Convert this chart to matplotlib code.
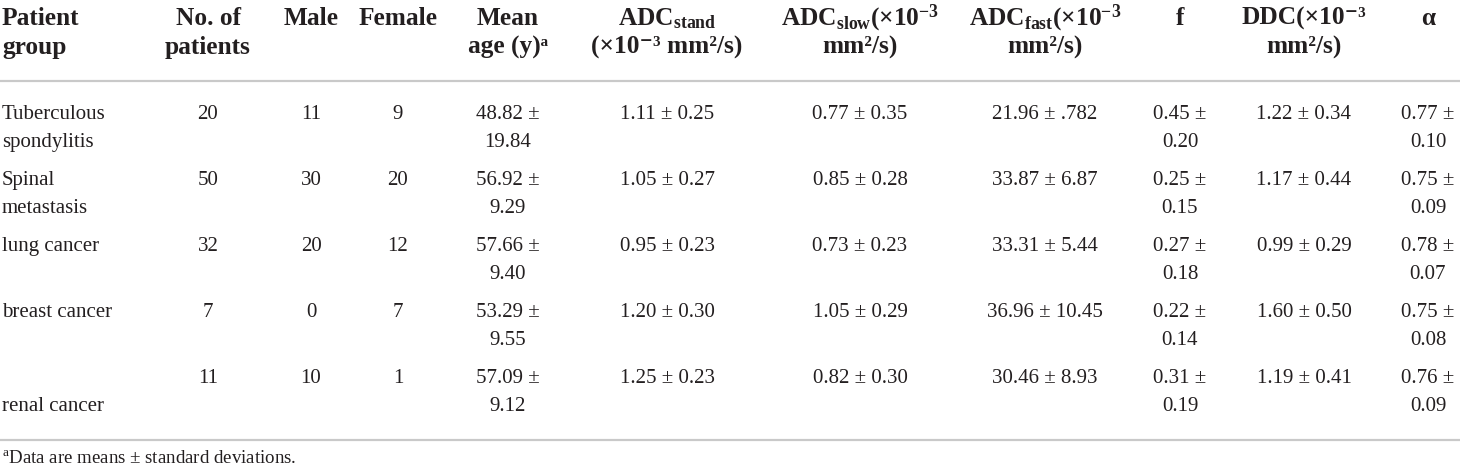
import matplotlib
matplotlib.use("Agg")
import matplotlib.pyplot as plt

# ---------------- data ----------------
groups = [["Tuberculous", "spondylitis"], ["Spinal", "metastasis"],
          ["lung cancer"], ["breast cancer"], ["", "renal cancer"]]
n_patients = [20, 50, 32, 7, 11]
male = [11, 30, 20, 0, 10]
female = [9, 20, 12, 7, 1]
age_mean = ["48.82", "56.92", "57.66", "53.29", "57.09"]
age_sd = ["19.84", "9.29", "9.40", "9.55", "9.12"]
adc_stand_mean = ["1.11", "1.05", "0.95", "1.20", "1.25"]
adc_stand_sd = ["0.25", "0.27", "0.23", "0.30", "0.23"]
adc_slow_mean = ["0.77", "0.85", "0.73", "1.05", "0.82"]
adc_slow_sd = ["0.35", "0.28", "0.23", "0.29", "0.30"]
adc_fast_mean = ["21.96", "33.87", "33.31", "36.96", "30.46"]
adc_fast_sd = [".782", "6.87", "5.44", "10.45", "8.93"]
f_mean = ["0.45", "0.25", "0.27", "0.22", "0.31"]
f_sd = ["0.20", "0.15", "0.18", "0.14", "0.19"]
ddc_mean = ["1.22", "1.17", "0.99", "1.60", "1.19"]
ddc_sd = ["0.34", "0.44", "0.29", "0.50", "0.41"]
alpha_mean = ["0.77", "0.75", "0.78", "0.75", "0.76"]
alpha_sd = ["0.10", "0.09", "0.07", "0.08", "0.09"]

headers = [
    ["Patient", "group"],
    ["No. of", "patients"],
    ["Male"],
    ["Female"],
    ["Mean", "age (y)ᵃ"],
    [r"ADC$_{\mathbf{stand}}$", "(×10⁻³ mm²/s)"],
    [r"ADC$_{\mathbf{slow}}$(×10$^{\mathbf{-3}}$", "mm²/s)"],
    [r"ADC$_{\mathbf{fast}}$(×10$^{\mathbf{-3}}$", "mm²/s)"],
    ["f"],
    ["DDC(×10⁻³", "mm²/s)"],
    ["α"],
]
footnote = r"$^{\mathrm{a}}$Data are means ± standard deviations."

# ---------------- style ----------------
plt.rcParams['font.family'] = ['Liberation Serif', 'DejaVu Serif']
plt.rcParams['mathtext.fontset'] = 'custom'
plt.rcParams['mathtext.rm'] = 'Liberation Serif'
plt.rcParams['mathtext.bf'] = 'Liberation Serif:bold'
plt.rcParams['mathtext.it'] = 'Liberation Serif:italic'

TXT = '#231f20'
RULE = '#c9c9c9'
W, H = 1460, 469
fig = plt.figure(figsize=(W / 100, H / 100), dpi=100)
ax = fig.add_axes([0, 0, 1, 1])
ax.set_xlim(0, W)
ax.set_ylim(H, 0)
ax.axis('off')

col_x = [2, 208, 311, 398, 508, 667, 860, 1045, 1180, 1304, 1428]
col_ha = ['left'] + ['center'] * 10
head_base = [25, 54]
row_base0, row_pitch, line_pitch = 119, 66, 28
HFS, BFS, FFS = 18.3, 15, 13.6

for c, lines in enumerate(headers):
    for k, t in enumerate(lines):
        ax.text(col_x[c], head_base[k], t, ha=col_ha[c], va='baseline',
                fontsize=HFS, fontweight='bold', color=TXT)

ax.plot([0, W], [81, 81], color=RULE, lw=1.6, solid_capstyle='butt')
ax.plot([0, W], [440, 440], color=RULE, lw=1.6, solid_capstyle='butt')


def pm(m, s):
    return f"{m} ± {s}"


for i in range(len(groups)):
    b = row_base0 + i * row_pitch
    cells = [
        groups[i],
        [str(n_patients[i])],
        [str(male[i])],
        [str(female[i])],
        [f"{age_mean[i]} ±", age_sd[i]],
        [pm(adc_stand_mean[i], adc_stand_sd[i])],
        [pm(adc_slow_mean[i], adc_slow_sd[i])],
        [pm(adc_fast_mean[i], adc_fast_sd[i])],
        [f"{f_mean[i]} ±", f_sd[i]],
        [pm(ddc_mean[i], ddc_sd[i])],
        [f"{alpha_mean[i]} ±", alpha_sd[i]],
    ]
    for c, lines in enumerate(cells):
        for k, t in enumerate(lines):
            if t:
                ax.text(col_x[c], b + k * line_pitch, t, ha=col_ha[c],
                        va='baseline', fontsize=BFS, color=TXT)

ax.text(2, 463, footnote, ha='left', va='baseline', fontsize=FFS, color=TXT)

fig.savefig("out.png", dpi=100, facecolor='white')
